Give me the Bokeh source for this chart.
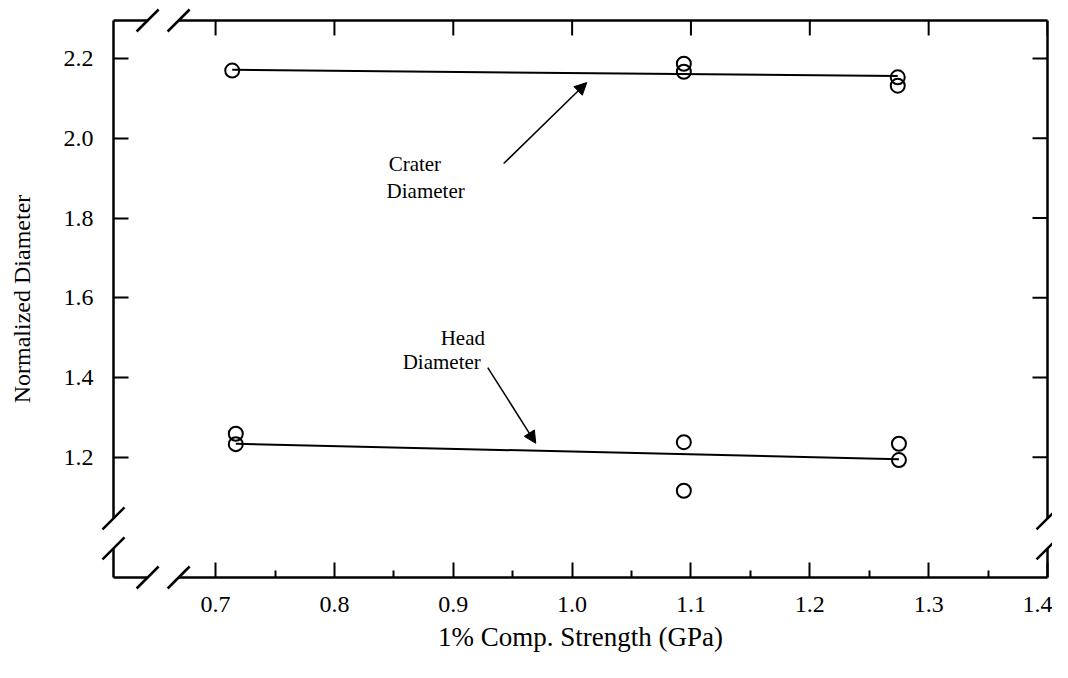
from bokeh.plotting import figure
from bokeh.models import (Range1d, FixedTicker, Arrow, NormalHead,
                          Label, PrintfTickFormatter)
from bokeh.embed import file_html
from bokeh.resources import INLINE

# ---- data ----
crater_x = [0.714, 1.094, 1.094, 1.274, 1.274]
crater_y = [2.170, 2.187, 2.167, 2.153, 2.132]
head_x = [0.717, 0.717, 1.094, 1.094, 1.275, 1.275]
head_y = [1.259, 1.233, 1.238, 1.116, 1.234, 1.193]
crater_fit_x = [0.714, 1.274]
crater_fit_y = [2.172, 2.156]
head_fit_x = [0.717, 1.275]
head_fit_y = [1.234, 1.195]

x_ticks = [0.7, 0.8, 0.9, 1.0, 1.1, 1.2, 1.3, 1.4]
x_minor = [0.75, 0.85, 0.95, 1.05, 1.15, 1.25, 1.35]
y_ticks = [1.2, 1.4, 1.6, 1.8, 2.0, 2.2]

X0, X1 = 0.6141, 1.4
Y0, Y1 = 0.8985, 2.2955
x_breaks = [0.6428, 0.6689]
y_breaks = [0.9714, 1.0467]

FONT = "Liberation Serif"
PX_X = 1188.0   # pixels per x unit
PX_Y = 398.7    # pixels per y unit

p = figure(width=1052, height=662, output_backend="svg", toolbar_location=None,
           x_range=Range1d(X0, X1), y_range=Range1d(Y0, Y1),
           min_border_left=113, min_border_right=5, min_border_top=20,
           min_border_bottom=85)
p.grid.visible = False
p.outline_line_color = None
p.background_fill_color = "white"
p.border_fill_color = "white"

def style_axis(ax, ticks, minor=None):
    ax.ticker = FixedTicker(ticks=ticks, minor_ticks=minor or [])
    ax.axis_line_color = None
    ax.major_tick_in = 15
    ax.major_tick_out = 0
    ax.minor_tick_in = 7 if minor else 0
    ax.minor_tick_out = 0
    ax.major_tick_line_width = 2
    ax.minor_tick_line_width = 2
    ax.major_tick_line_color = "black"
    ax.minor_tick_line_color = "black" if minor else None
    ax.formatter = PrintfTickFormatter(format="%.1f")
    ax.major_label_text_font = FONT
    ax.major_label_text_font_size = "24px"
    ax.major_label_text_color = "black"
    ax.axis_label_text_font = FONT
    ax.axis_label_text_font_style = "normal"
    ax.axis_label_text_color = "black"

xa = p.xaxis[0]
style_axis(xa, x_ticks, x_minor)
xa.axis_label = "1% Comp. Strength (GPa)"
xa.axis_label_text_font_size = "27px"
xa.major_label_standoff = 19
xa.axis_label_standoff = 7

ya = p.yaxis[0]
style_axis(ya, y_ticks)
ya.axis_label = "Normalized Diameter"
ya.axis_label_text_font_size = "24px"
ya.major_label_standoff = 20
ya.axis_label_standoff = 26

# ---- top and right ticks (inward) ----
tlen_x = 15 / PX_X
tlen_y = 15 / PX_Y
p.segment(x_ticks, [Y1] * len(x_ticks), x_ticks, [Y1 - tlen_y] * len(x_ticks),
          line_color="black", line_width=2)
p.segment([X1] * len(y_ticks), y_ticks, [X1 - tlen_x] * len(y_ticks), y_ticks,
          line_color="black", line_width=2)

# ---- frame with axis breaks ----
x0s = [X0, x_breaks[1], X0, x_breaks[1], X0, X0, X1, X1]
y0s = [Y1, Y1, Y0, Y0, Y0, y_breaks[1], Y0, y_breaks[1]]
x1s = [x_breaks[0], X1, x_breaks[0], X1, X0, X0, X1, X1]
y1s = [Y1, Y1, Y0, Y0, y_breaks[0], Y1, y_breaks[0], Y1]
p.segment(x0s, y0s, x1s, y1s, line_color="black", line_width=2.5, level="overlay")

dx = 11 / PX_X
dy = 11 / PX_Y
sx0, sy0, sx1, sy1 = [], [], [], []
for yy in (Y0, Y1):
    for c in x_breaks:
        sx0.append(c - dx); sy0.append(yy - dy); sx1.append(c + dx); sy1.append(yy + dy)
for xx in (X0, X1):
    for c in y_breaks:
        sx0.append(xx - dx); sy0.append(c - dy); sx1.append(xx + dx); sy1.append(c + dy)
p.segment(sx0, sy0, sx1, sy1, line_color="black", line_width=2.5, level="overlay")

# ---- fit lines and points ----
p.line(crater_fit_x, crater_fit_y, line_color="black", line_width=2)
p.line(head_fit_x, head_fit_y, line_color="black", line_width=2)
p.scatter(crater_x, crater_y, marker="circle", size=14, fill_color=None,
          line_color="black", line_width=2)
p.scatter(head_x, head_y, marker="circle", size=14, fill_color=None,
          line_color="black", line_width=2)

# ---- annotations ----
for txt, lx, ly in [("Crater", 0.8456, 1.936), ("Diameter", 0.8439, 1.868),
                    ("Head", 0.8894, 1.499), ("Diameter", 0.8574, 1.439)]:
    p.add_layout(Label(x=lx, y=ly, text=txt, text_font=FONT, text_font_size="21px",
                       text_color="black", text_baseline="middle", text_align="left"))

p.add_layout(Arrow(x_start=0.9424, y_start=1.9367, x_end=1.0123, y_end=2.1398,
                   line_width=1.5, line_color="black",
                   end=NormalHead(size=12, fill_color="black", line_color="black")))
p.add_layout(Arrow(x_start=0.929, y_start=1.425, x_end=0.9694, y_end=1.2351,
                   line_width=1.5, line_color="black",
                   end=NormalHead(size=12, fill_color="black", line_color="black")))

open("out.html", "w").write(file_html(p, INLINE))
